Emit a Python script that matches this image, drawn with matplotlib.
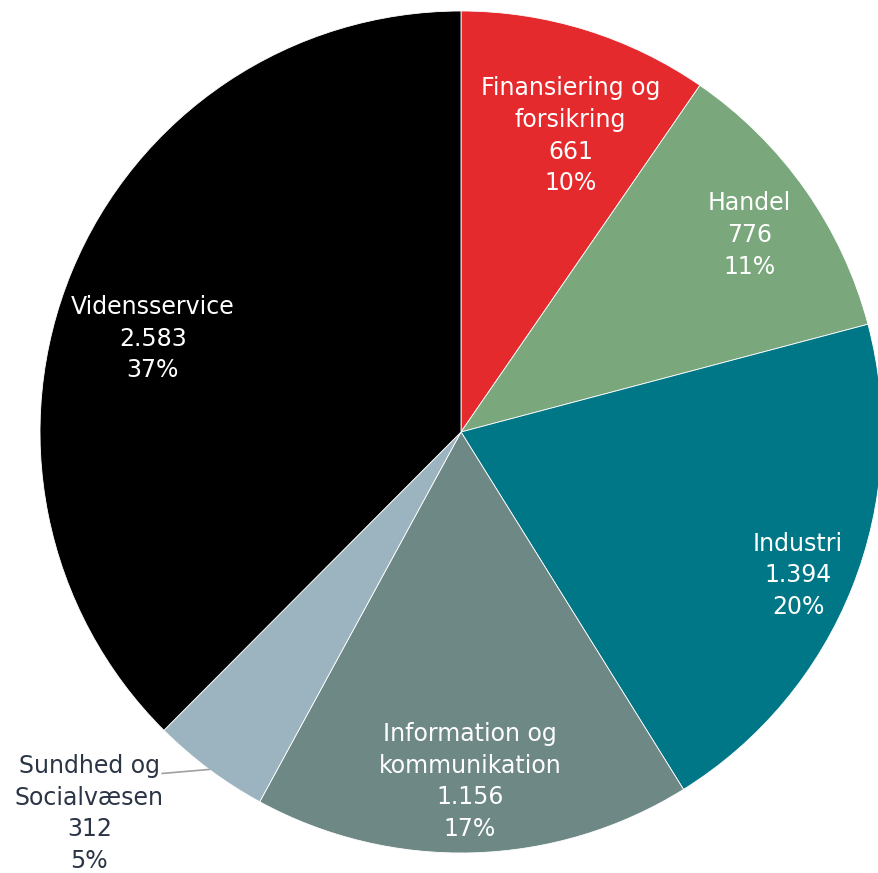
import numpy as np
import matplotlib
matplotlib.use("Agg")
import matplotlib.pyplot as plt

# sectors, clockwise from 12 o'clock
sectors = ["Finansiering og\nforsikring", "Handel", "Industri",
           "Information og\nkommunikation", "Sundhed og\nSocialvæsen", "Vidensservice"]
values = [661, 776, 1394, 1156, 312, 2583]
value_labels = ["661", "776", "1.394", "1.156", "312", "2.583"]
pct_labels = ["10%", "11%", "20%", "17%", "5%", "37%"]

colors = ["#e52a2d", "#7aa77c", "#007786", "#6e8886", "#9bb4c0", "#000000"]
# label placement: fraction of radius + small angle nudge (deg) off the mid angle
# None = outside with a leader line
label_r = [0.75, 0.83, 0.87, 0.83, None, 0.765]
label_dang = [-3.0, -0.8, -1.4, -0.2, 0.0, 5.6]

W, H = 879, 873
CX, CY, R = 461, H - 432, 421
FONT = 17
LSP = 1.4
DARK = "#2b3545"

plt.rcParams["font.family"] = ["DejaVu Sans"]

fig = plt.figure(figsize=(W / 100, H / 100), dpi=100)
ax = fig.add_axes([0, 0, 1, 1])

wedges, _ = ax.pie(values, colors=colors, startangle=90, counterclock=False,
                   center=(CX, CY), radius=R, frame=True,
                   wedgeprops=dict(edgecolor="white", linewidth=0.6))

for w, name, v, p, lr, da in zip(wedges, sectors, value_labels, pct_labels,
                                 label_r, label_dang):
    mid = np.radians((w.theta1 + w.theta2) / 2)
    txt = f"{name}\n{v}\n{p}"
    if lr is not None:
        a = mid + np.radians(da)
        x = CX + lr * R * np.cos(a)
        y = CY + lr * R * np.sin(a)
        ax.text(x, y, txt, ha="center", va="center", color="white",
                fontsize=FONT, linespacing=LSP)
    else:
        # small slice - label outside with a grey leader line
        ex = CX + R * np.cos(mid)
        ey = CY + R * np.sin(mid)
        ax.plot([ex, ex - 47], [ey, ey - 4], color="#a0a0a0", linewidth=1.2)
        # sits right at the bottom edge in the original, nudge up a hair
        ax.text(ex - 120, ey - 44, txt, ha="center", va="center", color=DARK,
                fontsize=FONT, linespacing=LSP)

ax.set_xlim(0, W)
ax.set_ylim(0, H)
ax.axis("off")

fig.savefig("out.png", dpi=100, facecolor="white")
